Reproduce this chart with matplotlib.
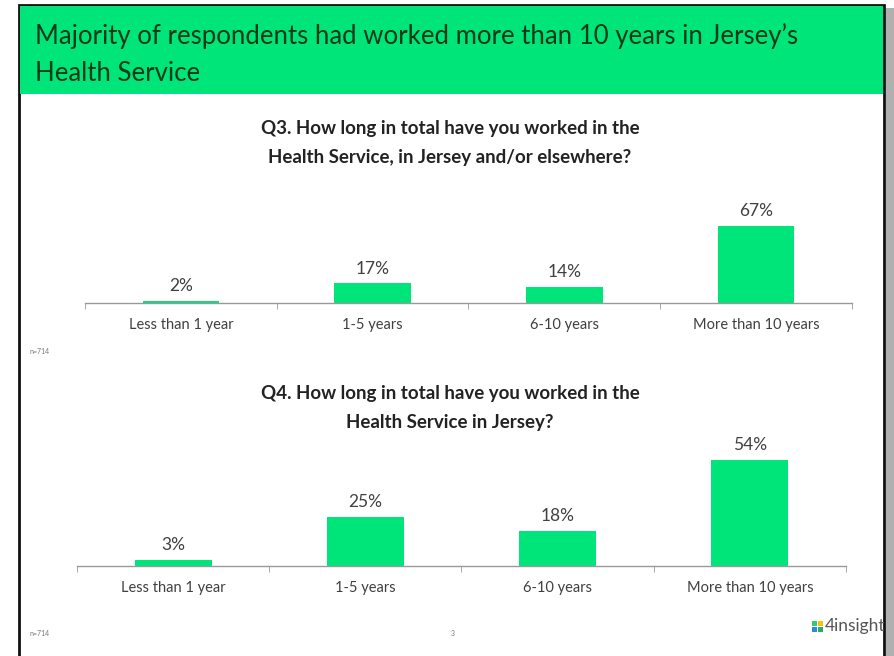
import matplotlib.pyplot as plt
from matplotlib.patches import Rectangle

# Data
categories = ["Less than 1 year", "1-5 years", "6-10 years", "More than 10 years"]
q3_values = [2, 17, 14, 67]
q4_values = [3, 25, 18, 54]
q3_title = "Q3. How long in total have you worked in the\nHealth Service, in Jersey and/or elsewhere?"
q4_title = "Q4. How long in total have you worked in the\nHealth Service in Jersey?"
heading = "Majority of respondents had worked more than 10 years in Jersey\u2019s\nHealth Service"
base_note = "n=714"

# Colours
green = "#00E57A"
dark_green = "#0B3A17"
text_grey = "#404040"

plt.rcParams['font.family'] = ['Lato', 'DejaVu Sans']

W, H = 895, 656
fig = plt.figure(figsize=(W / 100, H / 100), dpi=100)
fig.patch.set_facecolor("white")


def px_axes(x0, y_top, x1, y_bottom):
    # axes placed by pixel box measured from the top-left corner
    return fig.add_axes([x0 / W, 1 - y_bottom / H, (x1 - x0) / W, (y_bottom - y_top) / H])


# Slide frame, shadow and header band
bg = px_axes(0, 0, W, H)
bg.set_xlim(0, W)
bg.set_ylim(H, 0)
bg.axis("off")
bg.add_patch(Rectangle((886, 8), 9, H, color="#B0B0B0", lw=0))
bg.add_patch(Rectangle((19, 5), 865, H + 10, facecolor="white", edgecolor="#111111", lw=2))
bg.add_patch(Rectangle((20, 6), 863, 88, color=green, lw=0))
bg.text(35, 55, heading, fontsize=18.5, color=dark_green, va="center", ha="left",
        linespacing=1.6)

# Question titles
bg.text(450, 143, q3_title, fontsize=13.5, fontweight="bold", color="#222222",
        ha="center", va="center", linespacing=1.8)
bg.text(450, 408, q4_title, fontsize=13.5, fontweight="bold", color="#222222",
        ha="center", va="center", linespacing=1.8)

# Base notes, page number, logo
bg.text(30, 352, base_note, fontsize=5, color="#777777", va="center")
bg.text(30, 634, base_note, fontsize=5, color="#777777", va="center")
bg.text(453, 633, "3", fontsize=5, color="#777777", va="center", ha="center")
for dx, dy, c in [(0, 0, "#2ECC71"), (6, 0, "#F4C20D"), (0, 6, "#2E86DE"), (6, 6, "#27AE60")]:
    bg.add_patch(Rectangle((812 + dx, 621 + dy), 5, 5, color=c, lw=0))
bg.text(825, 626, "4insight", fontsize=12.5, color="#555555", va="center", ha="left")


def draw_bars(ax, values, ymax):
    x = range(len(values))
    ax.bar(x, values, width=0.4, color=green, zorder=2)
    for xi, v in zip(x, values):
        ax.annotate(f"{v}%", (xi, v), xytext=(0, 5), textcoords="offset points",
                    ha="center", va="bottom", fontsize=12.5, color=text_grey)
    ax.set_xlim(-0.5, len(values) - 0.5)
    ax.set_ylim(0, ymax)
    ax.set_xticks(list(x))
    ax.set_xticklabels(categories, fontsize=10.5, color=text_grey)
    ax.tick_params(axis="x", length=0, pad=11)
    ax.set_xticks([i - 0.5 for i in range(len(values) + 1)], minor=True)
    ax.tick_params(axis="x", which="minor", length=4, color="#999999", direction="out")
    ax.set_yticks([])
    for s in ["top", "right", "left"]:
        ax.spines[s].set_visible(False)
    ax.spines["bottom"].set_color("#999999")
    ax.spines["bottom"].set_linewidth(1)
    ax.patch.set_alpha(0)


ax1 = px_axes(85, 211, 852, 303)
draw_bars(ax1, q3_values, 80)

ax2 = px_axes(77, 448, 846, 566)
draw_bars(ax2, q4_values, 60)

fig.savefig("out.png", dpi=100)
